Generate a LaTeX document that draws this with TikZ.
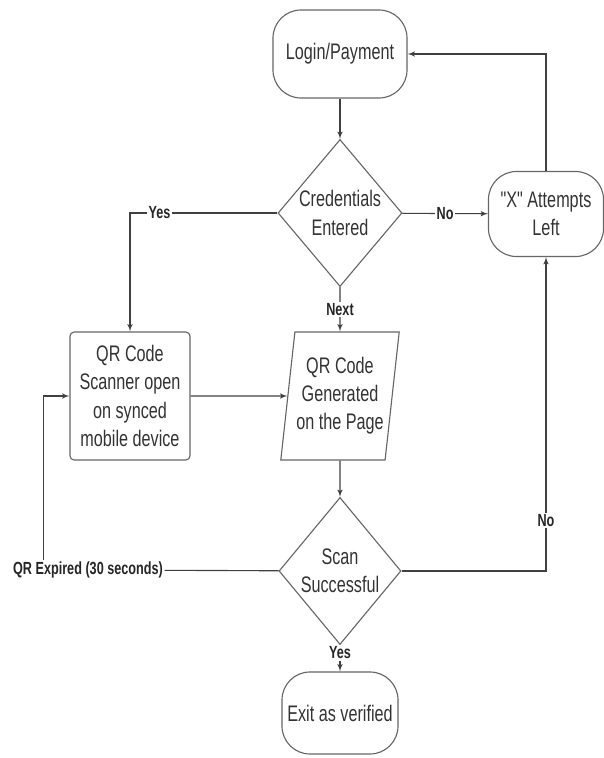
\documentclass[tikz,border=0pt]{standalone}
\usepackage{fontspec}
\setmainfont{Liberation Sans}[FakeStretch=0.72,Ligatures=TeXOff]
\usetikzlibrary{arrows,shapes.geometric}

\begin{document}
\begin{tikzpicture}[x=0.025cm,y=-0.025cm]
\tikzset{terminal/.style = {shape=rectangle,draw=black!60,line width=0.8pt,rounded corners=0.7cm,minimum width=3.35cm,minimum height=2.2cm,align=center,text=black!80,font=\fontsize{16}{20}\selectfont}}
\tikzset{decision/.style = {shape=diamond,draw=black!60,line width=0.8pt,aspect=0.84,inner sep=0pt,minimum width=3.1cm,minimum height=3.675cm,align=center,text=black!80,font=\fontsize{16}{20}\selectfont}}
\tikzset{process/.style = {shape=rectangle,draw=black!60,line width=0.8pt,rounded corners=3pt,minimum width=3cm,minimum height=3.2cm,align=center,text=black!80,font=\fontsize{16}{20}\selectfont}}
\tikzset{data/.style = {shape=trapezium,trapezium left angle=80,trapezium right angle=100,trapezium stretches=true,draw=black!60,line width=0.8pt,inner sep=1pt,minimum width=2.925cm,minimum height=3.2cm,align=center,text=black!80,font=\fontsize{16}{20}\selectfont}}
\tikzset{edge/.style = {->,> = latex',draw=black!75,line width=0.8pt}}
\tikzset{lbl/.style = {fill=white,inner sep=1pt,text=black!85,font=\bfseries\fontsize{12.5}{14}\selectfont}}
\useasboundingbox (0,0) rectangle (604,758);
% vertices
\node[terminal] (login) at (340,54) {Login/Payment};
\node[decision] (cred) at (340,213) {Credentials\\Entered};
\node[terminal,minimum width=2.875cm,minimum height=2.125cm] (tries) at (546,214) {"X" Attempts\\Left};
\node[process] (scanner) at (130,396) {QR Code\\Scanner open\\on synced\\mobile device};
\node[data] (qrgen) at (340,396) {QR Code\\Generated\\on the Page};
\node[decision,minimum width=3.05cm] (scan) at (340,571) {Scan\\Successful};
\node[terminal,minimum width=2.9cm,minimum height=2.05cm] (exit) at (340,713) {Exit as verified};
\node[lbl] (expired) at (88,570) {QR Expired (30 seconds)};
%edges
\draw[edge] (login) to (cred);
\draw[edge] (cred) -- node[lbl] {No} (tries);
\draw[edge] (cred.west) -| node[lbl,pos=0.4] {Yes} (scanner.north);
\draw[edge] (cred) -- node[lbl] {Next} (qrgen);
\draw[edge] (scanner) -- (qrgen);
\draw[edge] (tries) |- (login);
\draw[edge] (qrgen) -- (scan);
\draw[edge] (scan) -| node[lbl,pos=0.58] {No} (tries);
\draw[edge] (scan) -- node[lbl,pos=0.3] {Yes} (exit);
\draw[edge,-] (scan) -- (expired);
\draw[edge] ([xshift=0.8cm]expired.north west) |- (scanner);
\end{tikzpicture}
\end{document}
